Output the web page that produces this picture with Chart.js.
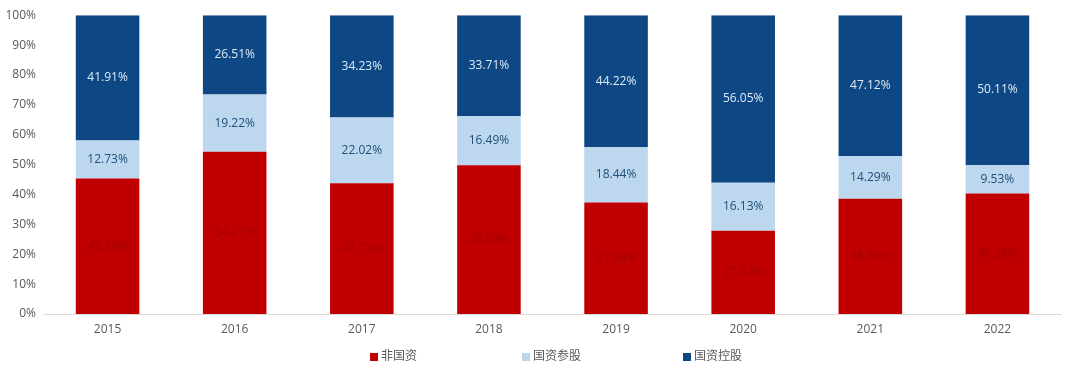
<!DOCTYPE html>
<html>
<head>
<meta charset="utf-8">
<script src="https://cdn.jsdelivr.net/npm/chart.js@4"></script>
<style>
  html, body { margin: 0; padding: 0; background: #fff; }
  #wrap { width: 1080px; height: 375px; position: relative; }
</style>
</head>
<body>
<div id="wrap"><canvas id="chart"></canvas></div>
<script>
// --- data ---
const years = ['2015', '2016', '2017', '2018', '2019', '2020', '2021', '2022'];
const nonState = [45.36, 54.27, 43.75, 49.80, 37.34, 27.82, 38.59, 40.36];   // 非国资
const stateMinority = [12.73, 19.22, 22.02, 16.49, 18.44, 16.13, 14.29, 9.53]; // 国资参股
const stateControl = [41.91, 26.51, 34.23, 33.71, 44.22, 56.05, 47.12, 50.11]; // 国资控股
const seriesNames = ['非国资', '国资参股', '国资控股'];
const yTicks = [0, 10, 20, 30, 40, 50, 60, 70, 80, 90, 100];

const colors = ['#C00000', '#BDD7EE', '#0D4884'];
const labelColors = ['#A30000', '#1F4E79', '#DDEBF7'];
const FONT = '"Open Sans", "Noto Sans CJK SC", sans-serif';

// draw the percentage text in the middle of each segment
const segmentLabels = {
  id: 'segmentLabels',
  afterDatasetsDraw(chart) {
    const ctx = chart.ctx;
    ctx.save();
    ctx.font = '12px ' + FONT;
    ctx.textAlign = 'center';
    ctx.textBaseline = 'middle';
    chart.data.datasets.forEach((ds, i) => {
      const meta = chart.getDatasetMeta(i);
      meta.data.forEach((bar, j) => {
        const y = (bar.y + bar.base) / 2;
        ctx.fillStyle = labelColors[i];
        ctx.fillText(ds.data[j].toFixed(2) + '%', bar.x, y);
      });
    });
    ctx.restore();
  }
};

// spread-out legend under the axis
const wideLegend = {
  id: 'wideLegend',
  afterDraw(chart) {
    const ctx = chart.ctx;
    const xs = [370, 522, 683];
    const y = 357;
    ctx.save();
    ctx.font = '12px ' + FONT;
    ctx.textBaseline = 'middle';
    ctx.textAlign = 'left';
    chart.data.datasets.forEach((ds, i) => {
      ctx.fillStyle = ds.backgroundColor;
      ctx.fillRect(xs[i], y - 4, 8, 8);
      ctx.fillStyle = '#595959';
      ctx.fillText(ds.label, xs[i] + 11, y);
    });
    ctx.restore();
  }
};

const ctx = document.getElementById('chart').getContext('2d');
new Chart(ctx, {
  type: 'bar',
  data: {
    labels: years,
    datasets: [
      {label: seriesNames[0], data: nonState, backgroundColor: colors[0]},
      {label: seriesNames[1], data: stateMinority, backgroundColor: colors[1]},
      {label: seriesNames[2], data: stateControl, backgroundColor: colors[2]}
    ]
  },
  options: {
    responsive: true,
    maintainAspectRatio: false,
    animation: false,
    barPercentage: 0.5,
    categoryPercentage: 1.0,
    layout: {padding: {left: 0, right: 19, top: 14, bottom: 35}},
    plugins: {
      legend: {display: false},
      tooltip: {enabled: false}
    },
    scales: {
      x: {
        stacked: true,
        grid: {display: false, drawTicks: false},
        border: {display: true, color: '#D9D9D9'},
        ticks: {color: '#595959', font: {size: 12, family: FONT}, padding: 8},
        afterFit: scale => { scale.height = 26; }
      },
      y: {
        stacked: true,
        min: 0,
        max: 100,
        afterBuildTicks: scale => { scale.ticks = yTicks.map(v => ({value: v})); },
        grid: {display: false, drawTicks: false},
        border: {display: false},
        ticks: {
          color: '#595959',
          font: {size: 12, family: FONT},
          padding: 8,
          callback: v => v + '%'
        },
        afterFit: scale => { scale.width = 44; }
      }
    }
  },
  plugins: [segmentLabels, wideLegend]
});
</script>
</body>
</html>
